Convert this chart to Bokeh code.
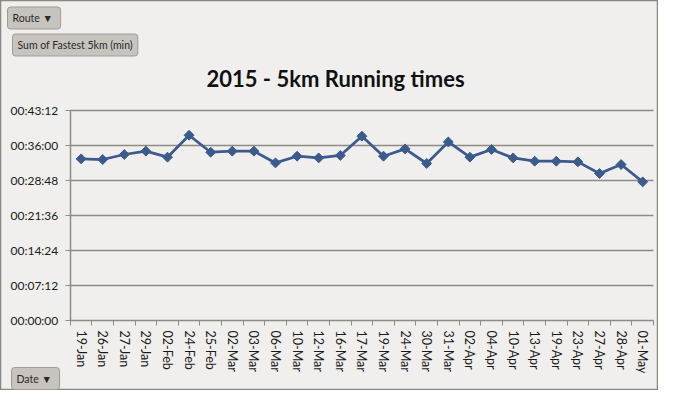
import math
from bokeh.plotting import figure
from bokeh.models import FixedTicker, Range1d, Label
from bokeh.embed import file_html
from bokeh.resources import INLINE

dates = ["19-Jan", "26-Jan", "27-Jan", "29-Jan", "02-Feb", "24-Feb", "25-Feb",
         "02-Mar", "03-Mar", "06-Mar", "10-Mar", "12-Mar", "16-Mar", "17-Mar",
         "19-Mar", "24-Mar", "30-Mar", "31-Mar", "02-Apr", "04-Apr", "10-Apr",
         "13-Apr", "19-Apr", "23-Apr", "27-Apr", "28-Apr", "01-May"]
# fastest 5km time, seconds
times_sec = [1995, 1987, 2049, 2090, 2016, 2287, 2077, 2090, 2090, 1945, 2028,
             2007, 2037, 2275, 2028, 2118, 1938, 2204, 2016, 2111, 2007, 1966,
             1966, 1958, 1814, 1925, 1711]
y_ticks = [0, 432, 864, 1296, 1728, 2160, 2592]
y_tick_labels = ["00:00:00", "00:07:12", "00:14:24", "00:21:36", "00:28:48",
                 "00:36:00", "00:43:12"]
title_text = "2015 - 5km Running times"
buttons_top = ["Route  \u25BC", "Sum of Fastest 5km (min)"]
button_bottom = "Date  \u25BC"

BG = "#f0efed"
GRID = "#8e8a85"
LINE = "#3b5b8c"
FONT = "Lato"

W, H = 658, 390
# layout (pixels on the canvas): plot area
PL, PR, PT, PB = 69.8, 653.0, 110.0, 320.0
n = len(dates)
ymax = y_ticks[-1]
px_per_cat = (PR - PL) / n
px_per_sec = (PB - PT) / ymax
x0 = -0.5 - PL / px_per_cat
x1 = x0 + W / px_per_cat
ylo = -(H - PB) / px_per_sec
yhi = ymax + PT / px_per_sec

idx = list(range(n))

p = figure(width=W, height=H, output_backend="svg", toolbar_location=None,
           x_range=Range1d(x0, x1), y_range=Range1d(ylo, yhi),
           min_border=0)
p.background_fill_color = BG
p.border_fill_color = BG
p.outline_line_color = "#8a8784"
p.outline_line_width = 1.5
p.grid.visible = False

# axes pinned at the plot-area edges
p.yaxis.fixed_location = -0.5
p.yaxis.bounds = (0, ymax)
p.yaxis.ticker = FixedTicker(ticks=y_ticks)
p.yaxis.major_label_overrides = {t: l for t, l in zip(y_ticks, y_tick_labels)}
p.yaxis.minor_tick_line_color = None
p.yaxis.major_tick_out = 5
p.yaxis.major_tick_in = 0
p.yaxis.major_label_standoff = 7
p.yaxis.axis_line_color = GRID
p.yaxis.axis_line_width = 1.5
p.yaxis.major_tick_line_color = GRID
p.yaxis.major_label_text_font = FONT
p.yaxis.major_label_text_font_size = "12px"
p.yaxis.major_label_text_color = "#1a1a1a"

p.xaxis.fixed_location = 0
p.xaxis.bounds = (-0.5, n - 0.5)
p.xaxis.ticker = FixedTicker(ticks=idx, minor_ticks=[i - 0.5 for i in range(n + 1)])
p.xaxis.major_label_overrides = {i: d for i, d in zip(idx, dates)}
p.xaxis.major_tick_line_color = None
p.xaxis.major_tick_out = 0
p.xaxis.major_tick_in = 0
p.xaxis.minor_tick_out = 5
p.xaxis.minor_tick_in = 0
p.xaxis.minor_tick_line_color = GRID
p.xaxis.axis_line_color = GRID
p.xaxis.axis_line_width = 1.5
p.xaxis.major_label_orientation = "vertical"
p.xaxis.major_label_standoff = 5
p.xaxis.major_label_text_font = FONT
p.xaxis.major_label_text_font_size = "12.5px"
p.xaxis.major_label_text_color = "#1a1a1a"

# horizontal gridlines across the plot area
gy = y_ticks[1:]
p.segment(x0=[-0.5] * len(gy), x1=[n - 0.5] * len(gy), y0=gy, y1=gy,
          line_color=GRID, line_width=1.5)

p.line(idx, times_sec, line_color=LINE, line_width=2.75)
p.scatter(idx, times_sec, marker="square", angle=math.pi / 4, size=7,
          fill_color=LINE, line_color=LINE)

# chart title
p.add_layout(Label(x=335, y=H - 78, x_units="screen", y_units="screen",
                   text=title_text, text_align="center", text_baseline="middle",
                   text_font=FONT, text_font_style="bold", text_font_size="22px",
                   text_color="#111111"))

# pivot field buttons
def button(txt, x, y_from_top):
    p.add_layout(Label(x=x, y=H - y_from_top, x_units="screen", y_units="screen",
                       text=txt, text_align="left", text_baseline="middle",
                       text_font=FONT, text_font_size="10.5px", text_color="#2a2a2a",
                       background_fill_color="#c7c3be", border_line_color="#9f9b96",
                       border_line_width=1, padding=5, border_radius=3))

button(buttons_top[0], 7, 17.5)
button(buttons_top[1], 12, 44.5)
button(button_bottom, 11, 378)

open("out.html", "w").write(file_html(p, INLINE))
